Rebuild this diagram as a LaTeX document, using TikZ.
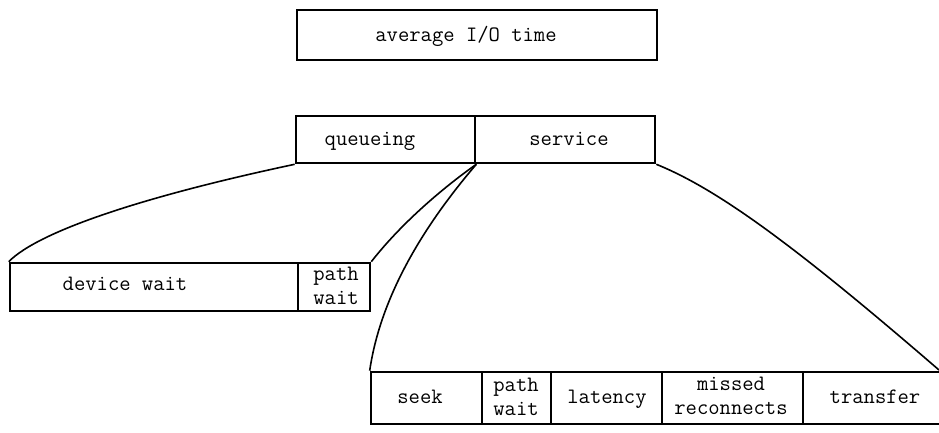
\documentclass[tikz,border=0pt]{standalone}
\usepackage{fontspec}
\begin{document}
\begin{tikzpicture}[x=0.5pt,y=-0.5pt,
  boxst/.style={draw,line width=1.3pt,rectangle,inner sep=0pt,anchor=center},
  lbl/.style={font=\ttfamily\fontsize{11}{12}\selectfont,align=center,inner sep=0pt},
  lbone/.style={lbl,text height=0.75em,text depth=0.25em},
  curve/.style={line width=0.8pt}]
\useasboundingbox (0,0) rectangle (939,433);
% boxes
\node[boxst,minimum width=180pt,minimum height=25pt] (top) at (477,35) {};
\node[boxst,minimum width=89.5pt,minimum height=23.5pt] (queue) at (385.5,139.5) {};
\node[boxst,minimum width=90pt,minimum height=23.5pt] (serv) at (565,139.5) {};
\node[boxst,minimum width=144pt,minimum height=24pt] (dev) at (154,287) {};
\node[boxst,minimum width=36pt,minimum height=24pt] (pw1) at (334,287) {};
\node[boxst,minimum width=55.5pt,minimum height=26pt] (seek) at (426.5,398) {};
\node[boxst,minimum width=34.5pt,minimum height=26pt] (pw2) at (516.5,398) {};
\node[boxst,minimum width=55.5pt,minimum height=26pt] (lat) at (606.5,398) {};
\node[boxst,minimum width=70.5pt,minimum height=26pt] (miss) at (732.5,398) {};
\node[boxst,minimum width=72pt,minimum height=26pt] (trans) at (875,398) {};
% labels
\node[lbone] (ttop) at (466,37) {average I/O time};
\node[lbone] (tqueue) at (370,141) {queueing};
\node[lbone] (tserv) at (569,141) {service};
\node[lbone] (tdev) at (125,286) {device wait};
\node[lbl] (tpw1) at (336,286) {path\\wait};
\node[lbone] (tseek) at (420,399) {seek};
\node[lbl] (tpw2) at (516,397) {path\\wait};
\node[lbone] (tlat) at (607,398) {latency};
\node[lbl] (tmiss) at (731,396) {missed\\reconnects};
\node[lbone] (ttrans) at (875,399) {transfer};
% connectors
\coordinate (tend) at (939,370);
\draw[curve] (queue.south west) .. controls (150,195) and (40,230) .. (dev.north west);
\draw[curve] (queue.south east) .. controls (440,190) and (400,225) .. (pw1.north east);
\draw[curve] (queue.south east) .. controls (420,230) and (380,300) .. (seek.north west);
\draw[curve] (serv.south east) .. controls (720,190) and (800,250) .. (tend);
\end{tikzpicture}
\end{document}
